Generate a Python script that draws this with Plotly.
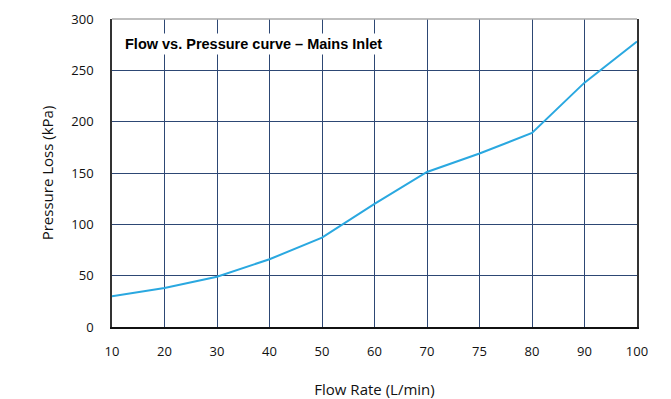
import plotly.graph_objects as go

flow_rates = ["10", "20", "30", "40", "50", "60", "70", "75", "80", "90", "100"]
pressure_loss = [30, 38, 49, 66, 87, 120, 151, 169, 189, 238, 278]
y_ticks = [0, 50, 100, 150, 200, 250, 300]

title_text = "Flow vs. Pressure curve \u2013 Mains Inlet"
x_title = "Flow Rate (L/min)"
y_title = "Pressure Loss (kPa)"

grid = "#2d4774"
font_family = "Open Sans, Noto Sans, sans-serif"

fig = go.Figure()
fig.add_trace(go.Scatter(
    x=flow_rates, y=pressure_loss, mode="lines",
    line=dict(color="#2aa8e0", width=2),
    showlegend=False, hoverinfo="x+y",
))

fig.update_layout(
    width=663, height=391,
    margin=dict(l=104, r=34, t=11, b=72, autoexpand=False),
    paper_bgcolor="white", plot_bgcolor="white",
    font=dict(family=font_family, size=13, color="#111"),
    xaxis=dict(
        type="category", range=[0, len(flow_rates) - 1], automargin=False,
        showgrid=True, gridcolor=grid, gridwidth=1,
        showline=True, linecolor="#111", linewidth=1.5,
        ticks="", ticklabelstandoff=12,
        title=dict(text=x_title, font=dict(size=15, color="#111"), standoff=26),
        zeroline=False,
    ),
    yaxis=dict(
        range=[0, 300], tickvals=y_ticks, automargin=False,
        showgrid=True, gridcolor=grid, gridwidth=1,
        showline=True, linecolor="#333", linewidth=1.5, mirror=True,
        ticks="", ticklabelstandoff=14,
        title=dict(text=y_title, font=dict(size=15, color="#111"), standoff=14),
        zeroline=False,
    ),
    shapes=[dict(type="line", xref="paper", yref="paper", x0=0, x1=1, y0=1, y1=1,
                 line=dict(color="#aaaaaa", width=1.5), layer="above")],
    annotations=[dict(
        text="<b>" + title_text + "</b>", xref="paper", yref="paper",
        x=0.019, y=0.919, xanchor="left", yanchor="middle", showarrow=False,
        font=dict(family="Liberation Sans, Arial, sans-serif", size=14.5, color="#000"),
        bgcolor="white", borderpad=2,
    )],
)

fig.write_html("out.html")
